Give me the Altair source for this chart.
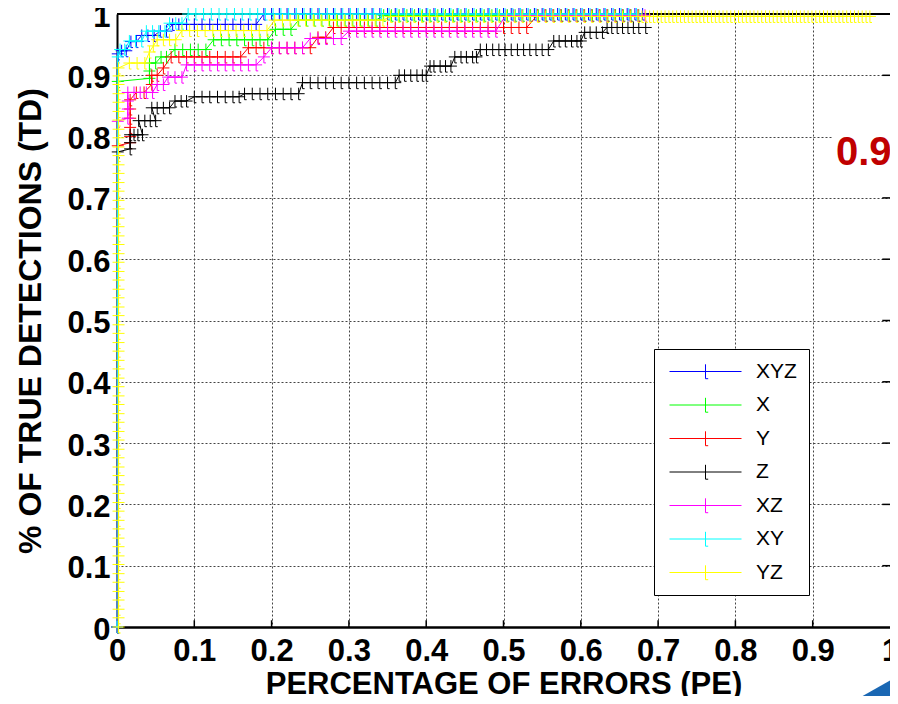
import altair as alt
import pandas as pd

SERIES = ["XYZ", "X", "Y", "Z", "XZ", "XY", "YZ"]
COLORS = ["#0000ff", "#00ff00", "#ff0000", "#000000", "#ff00ff", "#00ffff", "#ffff00"]

X_TICKS = [0, 0.1, 0.2, 0.3, 0.4, 0.5, 0.6, 0.7, 0.8, 0.9, 1]
Y_TICKS = [0, 0.1, 0.2, 0.3, 0.4, 0.5, 0.6, 0.7, 0.8, 0.9, 1]

# each series: list of (TD level, [PE values of the markers on that level])
XYZ_STEPS = [
    (0.0, [0.0]), (0.935, [0.001]), (0.94, [0.006, 0.012]), (0.955, [0.018, 0.025]),
    (0.965, [0.032, 0.04, 0.048]), (0.972, [0.056, 0.064]),
    (0.983, [0.072, 0.08, 0.09, 0.1, 0.11, 0.12, 0.13, 0.14, 0.15, 0.16, 0.17, 0.18]),
    (1.0, [0.19, 0.2, 0.21, 0.22, 0.23, 0.24, 0.25, 0.26, 0.27, 0.28, 0.29, 0.3, 0.31, 0.32,
           0.33, 0.34, 0.35, 0.36, 0.37, 0.38, 0.39, 0.4, 0.41, 0.42, 0.43, 0.44, 0.45, 0.46,
           0.47, 0.48, 0.49, 0.5, 0.51, 0.52, 0.53, 0.54, 0.55, 0.56, 0.57, 0.58, 0.59, 0.6,
           0.61, 0.62, 0.63, 0.64, 0.65, 0.66, 0.67, 0.68]),
]
X_STEPS = [
    (0.0, [0.0]), (0.89, [0.001]), (0.895, [0.042]), (0.907, [0.042]), (0.92, [0.042, 0.05]),
    (0.93, [0.057, 0.064]), (0.942, [0.075, 0.085, 0.095, 0.105, 0.115]),
    (0.958, [0.125, 0.135, 0.145, 0.155, 0.165, 0.175, 0.185, 0.195]),
    (0.975, [0.205, 0.215, 0.225]),
    (0.99, [0.235, 0.245, 0.255, 0.265, 0.275, 0.285, 0.295, 0.305, 0.315, 0.325, 0.335]),
    (0.998, [0.345, 0.355, 0.365, 0.375, 0.385, 0.395, 0.405, 0.415, 0.425, 0.435, 0.445,
             0.455, 0.465, 0.475, 0.485, 0.495, 0.505, 0.515, 0.525, 0.535, 0.545, 0.555,
             0.565, 0.575, 0.585, 0.595, 0.605, 0.615, 0.625, 0.635, 0.645, 0.655, 0.665, 0.675]),
]
Y_STEPS = [
    (0.0, [0.0]), (0.785, [0.001]), (0.79, [0.017]), (0.8, [0.017]), (0.815, [0.017]),
    (0.83, [0.017]), (0.845, [0.017]), (0.86, [0.017]), (0.872, [0.025, 0.035]),
    (0.885, [0.045]), (0.9, [0.045, 0.052]), (0.912, [0.06]),
    (0.93, [0.07, 0.08, 0.09, 0.1, 0.11, 0.12, 0.13, 0.14, 0.15, 0.16]),
    (0.945, [0.17, 0.18, 0.19, 0.2, 0.21, 0.22, 0.23, 0.24, 0.25]),
    (0.962, [0.26, 0.27]),
    (0.978, [0.28, 0.29, 0.3, 0.31, 0.32, 0.33, 0.34, 0.35, 0.36, 0.37, 0.38, 0.39, 0.4,
             0.41, 0.42, 0.43, 0.44, 0.45, 0.46, 0.47, 0.48, 0.49, 0.5, 0.51, 0.52, 0.53]),
    (0.998, [0.544, 0.554, 0.564, 0.574, 0.584, 0.594, 0.604, 0.614, 0.624, 0.634, 0.644,
             0.654, 0.664, 0.674]),
]
Z_STEPS = [
    (0.0, [0.0]), (0.775, [0.001]), (0.78, [0.017]), (0.79, [0.017]),
    (0.803, [0.017, 0.022, 0.027, 0.033]), (0.826, [0.028, 0.036, 0.043, 0.05]),
    (0.847, [0.045, 0.052, 0.06, 0.068]), (0.858, [0.075, 0.083, 0.09]),
    (0.865, [0.1, 0.11, 0.12, 0.13, 0.14, 0.15, 0.158]),
    (0.87, [0.165, 0.175, 0.185, 0.195, 0.205, 0.215, 0.225, 0.235]),
    (0.888, [0.24, 0.25, 0.26, 0.27, 0.28, 0.29, 0.3, 0.31, 0.32, 0.33, 0.34, 0.35, 0.36]),
    (0.9, [0.365, 0.372, 0.38, 0.388, 0.395, 0.4]),
    (0.915, [0.405, 0.41, 0.418, 0.425, 0.432]),
    (0.93, [0.437, 0.445, 0.452, 0.46, 0.465]),
    (0.942, [0.47, 0.478, 0.486, 0.494, 0.502, 0.51, 0.518, 0.526, 0.534, 0.542, 0.55, 0.558]),
    (0.956, [0.565, 0.572, 0.58, 0.588, 0.595, 0.6]),
    (0.97, [0.605, 0.612, 0.62, 0.628]),
    (0.978, [0.634, 0.64, 0.647, 0.654, 0.661, 0.668, 0.675, 0.684]),
]
XZ_STEPS = [
    (0.0, [0.0]), (0.825, [0.001]), (0.83, [0.014]), (0.845, [0.014]), (0.858, [0.014]),
    (0.872, [0.014, 0.022, 0.03, 0.038, 0.046]), (0.885, [0.052, 0.06]),
    (0.897, [0.066, 0.075, 0.084]),
    (0.917, [0.09, 0.1, 0.11, 0.12, 0.13, 0.14, 0.15, 0.16, 0.17, 0.18]),
    (0.93, [0.19]), (0.945, [0.2, 0.21, 0.22, 0.23, 0.24]),
    (0.96, [0.25, 0.26, 0.27, 0.28, 0.29]),
    (0.972, [0.3, 0.31, 0.32, 0.33, 0.34, 0.35, 0.36, 0.37, 0.38, 0.39, 0.4, 0.41, 0.42,
             0.43, 0.44, 0.45, 0.46, 0.47, 0.48, 0.49]),
    (0.998, [0.503, 0.513, 0.523, 0.533, 0.543, 0.553, 0.563, 0.573, 0.583, 0.593, 0.603,
             0.613, 0.623, 0.633, 0.643, 0.653, 0.663, 0.673, 0.683]),
]
XY_STEPS = [
    (0.0, [0.0]), (0.93, [0.001]), (0.942, [0.004, 0.01]), (0.956, [0.016, 0.024, 0.032]),
    (0.972, [0.038, 0.046, 0.054, 0.062]), (0.985, [0.068, 0.076, 0.084]),
    (1.0, [0.092, 0.102, 0.112, 0.122, 0.132, 0.142, 0.152, 0.162, 0.172, 0.182, 0.192,
           0.202, 0.212, 0.222, 0.232, 0.242, 0.252, 0.262, 0.272, 0.282, 0.292, 0.302,
           0.312, 0.322, 0.332, 0.342, 0.352, 0.362, 0.372, 0.382, 0.392, 0.402, 0.412,
           0.422, 0.432, 0.442, 0.452, 0.462, 0.472, 0.482, 0.492, 0.502, 0.512, 0.522,
           0.532, 0.542, 0.552, 0.562, 0.572, 0.582, 0.592, 0.602, 0.612, 0.622, 0.632,
           0.642, 0.652, 0.662, 0.672]),
]
YZ_LEFT_X = 0.002
YZ_LEFT_Y = [0, 0.015, 0.029, 0.044, 0.058, 0.073, 0.087, 0.102, 0.116, 0.131, 0.145, 0.16,
             0.174, 0.189, 0.203, 0.218, 0.232, 0.247, 0.261, 0.276, 0.29, 0.305, 0.319,
             0.334, 0.348, 0.363, 0.377, 0.392, 0.406, 0.421, 0.435, 0.45, 0.464, 0.479,
             0.493, 0.508, 0.522, 0.537, 0.551, 0.566, 0.58, 0.595, 0.609, 0.624, 0.638,
             0.653, 0.667, 0.682, 0.696, 0.711, 0.725, 0.74, 0.754, 0.769, 0.783, 0.798,
             0.812, 0.827, 0.841, 0.856, 0.87, 0.885, 0.899, 0.912]
YZ_STEPS = [
    (0.92, [0.016, 0.026, 0.036]), (0.938, [0.042]), (0.948, [0.047]),
    (0.958, [0.052, 0.06, 0.068, 0.076]),
    (0.973, [0.084, 0.094, 0.104, 0.114, 0.124, 0.134, 0.144, 0.154, 0.164, 0.174, 0.184, 0.194]),
    (0.99, [0.204, 0.214, 0.224, 0.234, 0.244, 0.254, 0.264, 0.274, 0.284, 0.294, 0.304,
            0.314, 0.324, 0.334, 0.344]),
    (0.996, [0.354, 0.364, 0.374, 0.384, 0.394, 0.404, 0.414, 0.424, 0.434, 0.444, 0.454,
             0.464, 0.474, 0.484, 0.494, 0.504, 0.514, 0.524, 0.534, 0.544, 0.554, 0.564,
             0.574, 0.584, 0.594, 0.604, 0.614, 0.624, 0.634, 0.644, 0.654, 0.664, 0.674,
             0.679, 0.684, 0.689, 0.694, 0.699, 0.704, 0.709, 0.714, 0.719, 0.724, 0.729,
             0.734, 0.739, 0.744, 0.749, 0.754, 0.759, 0.764, 0.769, 0.774, 0.779, 0.784,
             0.789, 0.794, 0.799, 0.804, 0.809, 0.814, 0.819, 0.824, 0.829, 0.834, 0.839,
             0.844, 0.849, 0.854, 0.859, 0.864, 0.869, 0.874, 0.879, 0.884, 0.889, 0.894,
             0.899, 0.904, 0.909, 0.914, 0.919, 0.924, 0.929, 0.934, 0.939, 0.944, 0.949,
             0.954, 0.959, 0.964, 0.969, 0.974]),
]

NOTE_TEXT = "0.9"
X_TITLE = "PERCENTAGE OF ERRORS (PE)"
Y_TITLE = "% OF TRUE DETECTIONS (TD)"

all_steps = {
    "XYZ": XYZ_STEPS, "X": X_STEPS, "Y": Y_STEPS, "Z": Z_STEPS, "XZ": XZ_STEPS,
    "XY": XY_STEPS, "YZ": [(v, [YZ_LEFT_X]) for v in YZ_LEFT_Y] + YZ_STEPS,
}
rows = []
for name in SERIES:
    i = 0
    for level, xs in all_steps[name]:
        for xv in xs:
            rows.append({"series": name, "x": xv, "y": level, "i": i})
            i += 1
df = pd.DataFrame(rows)

FONT = "Liberation Sans"
W, H = 773, 613
PLUS = "M-1,0L1,0M0,-1L0,1L0.35,1"
LEG_SYM = "M-4,0L4,0M0,-0.8L0,0.8L0.3,0.8"

xscale = alt.Scale(domain=[0, 1], nice=False, zero=False)
yscale = alt.Scale(domain=[0, 1], nice=False, zero=False)
cscale = alt.Scale(domain=SERIES, range=COLORS)

xaxis = alt.Axis(values=X_TICKS, format="~g", labelFont=FONT, labelFontSize=31,
                 labelFontWeight="bold", labelColor="black", labelPadding=9, ticks=False,
                 labelOverlap=False, labelFlush=False,
                 domainColor="black", domainWidth=2.5, grid=True, gridColor="#444",
                 gridDash=[2, 2], gridWidth=1, gridOpacity=1,
                 title=X_TITLE, titleFont=FONT, titleFontSize=31, titleFontWeight="bold",
                 titleColor="black", titleBaseline="alphabetic", titleY=66, titleX=W / 2)
yaxis = alt.Axis(values=Y_TICKS, format="~g", labelFont=FONT, labelFontSize=31,
                 labelFontWeight="bold", labelColor="black", labelPadding=7, ticks=False,
                 labelOverlap=False, labelFlush=False, labelOffset=3,
                 domainColor="black", domainWidth=2, grid=True, gridColor="#444",
                 gridDash=[2, 2], gridWidth=1, gridOpacity=1,
                 title=Y_TITLE, titleFont=FONT, titleFontSize=32, titleFontWeight="bold",
                 titleColor="black", titleBaseline="alphabetic", titleAngle=270,
                 titleAlign="center", titleX=-77, titleY=H / 2)
legend = alt.Legend(title=None, orient="none", legendX=537, legendY=335,
                    symbolType=LEG_SYM, symbolSize=324, symbolStrokeWidth=1,
                    symbolOffset=29, symbolFillColor="transparent", symbolOpacity=1,
                    labelFont=FONT, labelFontSize=21, labelColor="black", labelOffset=40,
                    rowPadding=11.5, padding=12, strokeColor="black", fillColor="white",
                    labelLimit=0)

X = alt.X("x:Q", scale=xscale, axis=xaxis)
Y = alt.Y("y:Q", scale=yscale, axis=yaxis)
C = alt.Color("series:N", scale=cscale, legend=legend)

layers = []
# frame: inward ticks and top border
bt = pd.DataFrame({"x": X_TICKS[1:-1], "y": [0] * 9, "y2": [0.011] * 9})
layers.append(alt.Chart(bt).mark_rule(color="black", strokeWidth=1.5).encode(
    x=X, y=Y, y2="y2:Q"))
rt = pd.DataFrame({"y": Y_TICKS[1:], "x": [0.99] * 10, "x2": [1.0] * 10})
layers.append(alt.Chart(rt).mark_rule(color="black", strokeWidth=1.5).encode(
    x=X, x2="x2:Q", y=Y))
top = pd.DataFrame({"x": [0], "x2": [1], "y": [1]})
layers.append(alt.Chart(top).mark_rule(color="black", strokeWidth=2).encode(
    x=X, x2="x2:Q", y=Y))

for name in SERIES:
    base = alt.Chart(df).transform_filter(alt.datum.series == name)
    layers.append(base.mark_line(strokeWidth=1).encode(x=X, y=Y, color=C, order="i:Q"))
    layers.append(base.mark_point(shape=PLUS, filled=False, size=144, strokeWidth=1,
                                  opacity=1).encode(x=X, y=Y, color=C))

one = pd.DataFrame({"k": [0]})
layers.append(alt.Chart(one).mark_rect(color="white").encode(
    x=alt.value(715), x2=alt.value(790), y=alt.value(80), y2=alt.value(172)))
layers.append(alt.Chart(one).mark_text(text=NOTE_TEXT, font=FONT, fontSize=40,
                                       fontWeight="bold", color="#c00000", align="left",
                                       baseline="alphabetic").encode(
    x=alt.value(719), y=alt.value(151)))
layers.append(alt.Chart(one).mark_point(shape="M-1,0.565L1,-0.565L1,0.565Z", filled=True,
                                        size=2116, color="#1a67b3", opacity=1).encode(
    x=alt.value(758), y=alt.value(675)))

chart = alt.layer(*layers).properties(
    width=W, height=H,
    autosize=alt.AutoSizeParams(type="none"),
    padding={"left": 109, "top": 6, "right": 0, "bottom": 69},
    background="white",
).configure_view(stroke=None)

chart.save("out.html", embed_options={"renderer": "svg", "actions": False})
